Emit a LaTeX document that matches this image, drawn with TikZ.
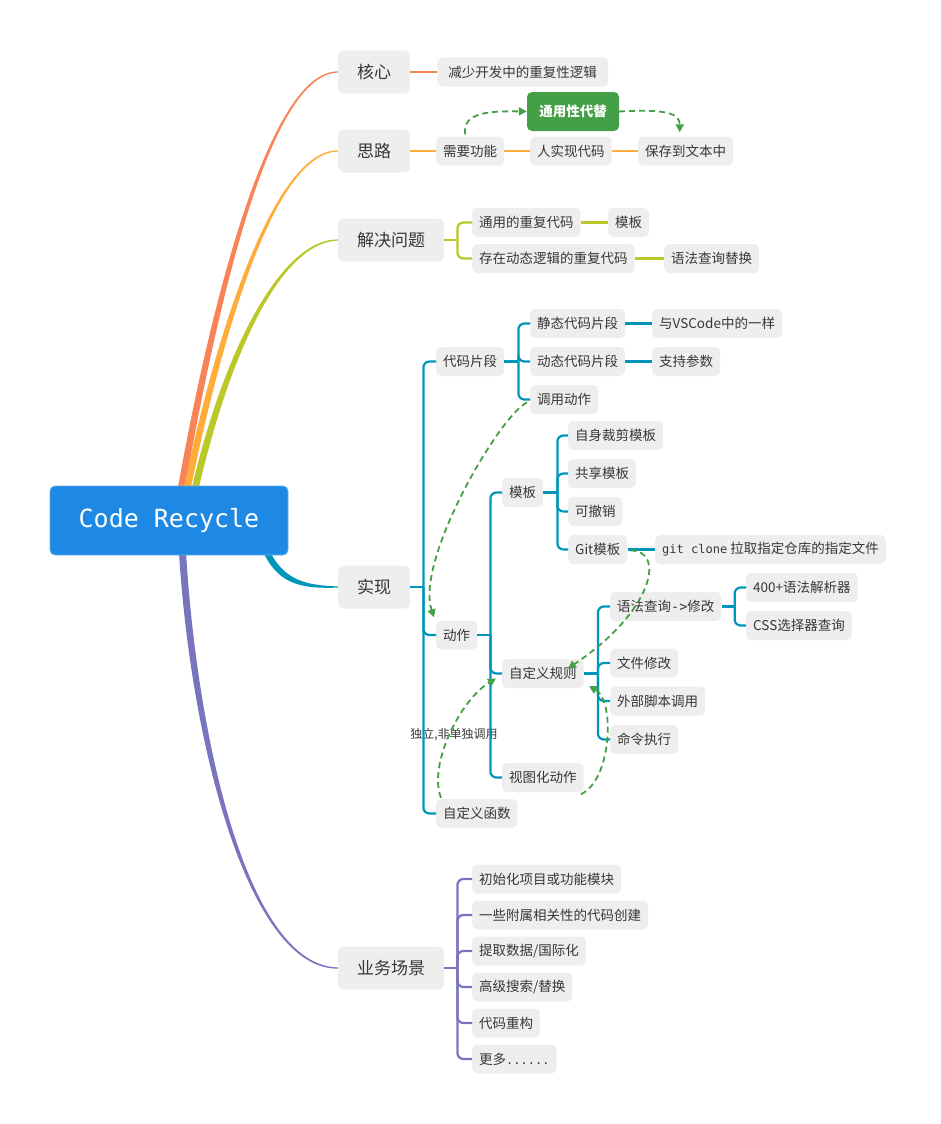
\documentclass[tikz,border=0pt]{standalone}
\usepackage{fontspec}
\setmainfont{Noto Sans CJK SC}
\newfontfamily\monof{DejaVu Sans Mono}
\usetikzlibrary{calc,backgrounds,arrows.meta}
\definecolor{orangeC}{RGB}{248,131,86}
\definecolor{yellowC}{RGB}{255,172,58}
\definecolor{greenC}{RGB}{186,200,40}
\definecolor{tealC}{RGB}{0,150,185}
\definecolor{purpleC}{RGB}{120,116,190}
\definecolor{nodegray}{RGB}{238,238,238}
\definecolor{rootblue}{RGB}{30,137,228}
\definecolor{dashgreen}{RGB}{67,160,71}
\definecolor{textc}{RGB}{55,55,55}
\tikzset{
  mainbox/.style={fill=nodegray, rounded corners=6pt, minimum height=43pt, inner xsep=19pt, inner ysep=0pt, anchor=west, font=\fontsize{17}{20}\selectfont, text=textc},
  subbox/.style={fill=nodegray, rounded corners=5pt, minimum height=29pt, inner xsep=7pt, inner ysep=0pt, anchor=west, font=\fontsize{13.5}{15}\selectfont, text=textc},
  rootbox/.style={fill=rootblue, draw=rootblue!70!white, line width=0.8pt, rounded corners=5pt, minimum width=238pt, minimum height=69pt, text=white, font=\fontsize{25}{30}\selectfont},
  hlbox/.style={fill=dashgreen, rounded corners=5pt, minimum width=92pt, minimum height=39pt, inner ysep=0pt, text=white, font=\fontsize{13.5}{15}\selectfont\bfseries},
  brline/.style={line width=2.2pt, rounded corners=6pt},
  greenarrow/.style={draw=dashgreen, line width=1.8pt, dash pattern=on 6pt off 4pt, -{Triangle[length=8pt,width=8pt]}},
  plainlabel/.style={font=\fontsize{12}{14}\selectfont, text=textc}
}
\begin{document}
\begin{tikzpicture}[x=1pt,y=-1pt]
\useasboundingbox (0,0) rectangle (941,1124);

% root
\node[rootbox] (root) at (169,520.5) {\monof Code Recycle};

% main branches
\node[mainbox] (hexin) at (338,72) {核心};
\node[mainbox] (silu) at (338,151) {思路};
\node[mainbox] (jiejue) at (338,240) {解决问题};
\node[mainbox] (shixian) at (338,587) {实现};
\node[mainbox] (yewu) at (338,968) {业务场景};

% 核心
\node[subbox, minimum width=171pt] (hexinA) at (437,72) {减少开发中的重复性逻辑};
% 思路
\node[subbox] (xuyao) at (436,151) {需要功能};
\node[hlbox] (tongyong) at (573,111.5) {通用性代替};
\node[subbox] (renshi) at (530,151) {人实现代码};
\node[subbox] (baocun) at (638,151) {保存到文本中};
% 解决问题
\node[subbox] (jj1) at (472,222.5) {通用的重复代码};
\node[subbox] (jj1a) at (608,222.5) {模板};
\node[subbox] (jj2) at (472,258.5) {存在动态逻辑的重复代码};
\node[subbox] (jj2a) at (664,258.5) {语法查询替换};
% 实现
\node[subbox] (dmpd) at (436,361.5) {代码片段};
\node[subbox] (jingtai) at (530,323.5) {静态代码片段};
\node[subbox] (vscode) at (652,323.5) {与VSCode中的一样};
\node[subbox] (dongtai) at (530,361.5) {动态代码片段};
\node[subbox] (canshu) at (652,361.5) {支持参数};
\node[subbox] (diaoyong) at (530,399.5) {调用动作};
\node[subbox] (dongzuo) at (436,635) {动作};
\node[subbox] (muban) at (502,492.5) {模板};
\node[subbox] (caijian) at (568,435.5) {自身裁剪模板};
\node[subbox] (gongxiang) at (568,473.5) {共享模板};
\node[subbox] (chexiao) at (568,511.5) {可撤销};
\node[subbox] (gitmb) at (568,549.5) {Git模板};
\node[subbox] (gitclone) at (655,549.5) {{\monof\fontsize{12}{14}\selectfont git clone} 拉取指定仓库的指定文件};
\node[subbox] (zdy) at (502,673.5) {自定义规则};
\node[subbox] (yufa) at (610,606.5) {语法查询{\monof ->}修改};
\node[subbox] (jiexi) at (746,587.5) {400+语法解析器};
\node[subbox] (css) at (746,625.5) {CSS选择器查询};
\node[subbox] (wenjian) at (610,663) {文件修改};
\node[subbox] (jiaoben) at (610,701) {外部脚本调用};
\node[subbox] (mingling) at (610,739.5) {命令执行};
\node[subbox] (shitu) at (502,777.5) {视图化动作};
\node[subbox] (zdyhs) at (436,813.5) {自定义函数};
\node[plainlabel] (duli) at (454,735) {独立,非单独调用};
% 业务场景
\node[subbox] (yw1) at (472,879) {初始化项目或功能模块};
\node[subbox] (yw2) at (472,915) {一些附属相关性的代码创建};
\node[subbox] (yw3) at (472,951) {提取数据/国际化};
\node[subbox] (yw4) at (472,987) {高级搜索/替换};
\node[subbox] (yw5) at (472,1023) {代码重构};
\node[subbox] (yw6) at (472,1059) {更多{\monof\fontsize{12}{14}\selectfont ......}};

% tapered root branches
\begin{scope}[on background layer]
\fill[orangeC] ($(root.north west)+(128.5,1)$) .. controls (211.5,300) and (270,70.2) .. ($(hexin.west)+(0,-0.6)$)
  -- ($(hexin.west)+(0,0.6)$) .. controls (270,73.8) and (218.5,300) .. ($(root.north west)+(135.5,1)$) -- cycle;
\fill[yellowC] ($(root.north west)+(134.5,1)$) .. controls (216.5,330) and (275,149.2) .. ($(silu.west)+(0,-0.6)$)
  -- ($(silu.west)+(0,0.6)$) .. controls (275,152.8) and (223.5,330) .. ($(root.north west)+(141.5,1)$) -- cycle;
\fill[greenC] ($(root.north west)+(142.5,1)$) .. controls (226.5,340) and (285,238.2) .. ($(jiejue.west)+(0,-0.6)$)
  -- ($(jiejue.west)+(0,0.6)$) .. controls (285,241.8) and (233.5,340) .. ($(root.north west)+(149.5,1)$) -- cycle;
\fill[purpleC] ($(root.south west)+(129.5,-1)$) .. controls (191.5,750) and (250,970) .. ($(yewu.west)+(0,0.6)$)
  -- ($(yewu.west)+(0,-0.6)$) .. controls (250,966) and (198.5,750) .. ($(root.south west)+(136.5,-1)$) -- cycle;
\fill[tealC] ($(root.south east)+(-17,-1)$) .. controls (286,580) and (305,585.3) .. ($(shixian.west)+(0,-0.6)$)
  -- ($(shixian.west)+(0,0.6)$) .. controls (305,588.7) and (280,586) .. ($(root.south east)+(-24,-1)$) -- cycle;
\end{scope}

% 核心 / 思路 connectors
\draw[brline, orangeC] (hexin.east) -- (hexinA.west);
\draw[brline, yellowC] (silu.east) -- (xuyao.west);
\draw[brline, yellowC] (xuyao.east) -- (renshi.west);
\draw[brline, yellowC] (renshi.east) -- (baocun.west);

% 解决问题
\draw[brline, greenC] (jiejue.east) -- ++(13,0) coordinate (jjfork);
\draw[brline, greenC] (jjfork) |- (jj1.west);
\draw[brline, greenC] (jjfork) |- (jj2.west);
\draw[brline, greenC] (jj1.east) -- (jj1a.west);
\draw[brline, greenC] (jj2.east) -- (jj2a.west);

% 实现
\draw[brline, tealC] (shixian.east) -- ++(13,0) coordinate (sxfork);
\draw[brline, tealC] (sxfork) |- (dmpd.west);
\draw[brline, tealC] (sxfork) |- (dongzuo.west);
\draw[brline, tealC] (sxfork) |- (zdyhs.west);

\draw[brline, tealC] (dmpd.east) -- ++(14,0) coordinate (dmfork);
\draw[brline, tealC] (dmfork) |- (jingtai.west);
\draw[brline, tealC] (dmfork) |- (dongtai.west);
\draw[brline, tealC] (dmfork) |- (diaoyong.west);
\draw[brline, tealC] (jingtai.east) -- (vscode.west);
\draw[brline, tealC] (dongtai.east) -- (canshu.west);

\draw[brline, tealC] (dongzuo.east) -- ++(13,0) coordinate (dzfork);
\draw[brline, tealC] (dzfork) |- (muban.west);
\draw[brline, tealC] (dzfork) |- (zdy.west);
\draw[brline, tealC] (dzfork) |- (shitu.west);

\draw[brline, tealC] (muban.east) -- ++(14,0) coordinate (mbfork);
\draw[brline, tealC] (mbfork) |- (caijian.west);
\draw[brline, tealC] (mbfork) |- (gongxiang.west);
\draw[brline, tealC] (mbfork) |- (chexiao.west);
\draw[brline, tealC] (mbfork) |- (gitmb.west);
\draw[brline, tealC] (gitmb.east) -- (gitclone.west);

\draw[brline, tealC] (zdy.east) -- ++(14,0) coordinate (zdyfork);
\draw[brline, tealC] (zdyfork) |- (yufa.west);
\draw[brline, tealC] (zdyfork) |- (wenjian.west);
\draw[brline, tealC] (zdyfork) |- (jiaoben.west);
\draw[brline, tealC] (zdyfork) |- (mingling.west);

\draw[brline, tealC] (yufa.east) -- ++(13,0) coordinate (yffork);
\draw[brline, tealC] (yffork) |- (jiexi.west);
\draw[brline, tealC] (yffork) |- (css.west);

% 业务场景
\draw[brline, purpleC] (yewu.east) -- ++(13,0) coordinate (ywfork);
\foreach \n in {yw1,yw2,yw3,yw4,yw5,yw6}
  \draw[brline, purpleC] (ywfork) |- (\n.west);

% dashed green relations
\draw[greenarrow] ($(xuyao.north)+(-5,-2)$) .. controls (462,112) and (490,111) .. (tongyong.west);
\draw[greenarrow] (tongyong.east) .. controls (665,109) and (680,113) .. ($(baocun.north)+(-6,-4)$);
\draw[greenarrow] ($(diaoyong.west)+(-3,3)$) .. controls (500,415) and (415,560) .. ($(dongzuo.north west)+(-2,-3)$);
\draw[greenarrow] ($(gitmb.east)+(3,1)$) .. controls (665,550) and (655,610) .. ($(zdy.east)+(-16,-5)$);
\draw[greenarrow] ($(shitu.south east)+(-3,2)$) .. controls (612,780) and (615,700) .. ($(zdy.south east)+(5,-2)$);
\draw[greenarrow] ($(zdyhs.north west)+(5,-1)$) .. controls (428,765) and (460,700) .. ($(zdy.west)+(-6,5)$);
\end{tikzpicture}
\end{document}
